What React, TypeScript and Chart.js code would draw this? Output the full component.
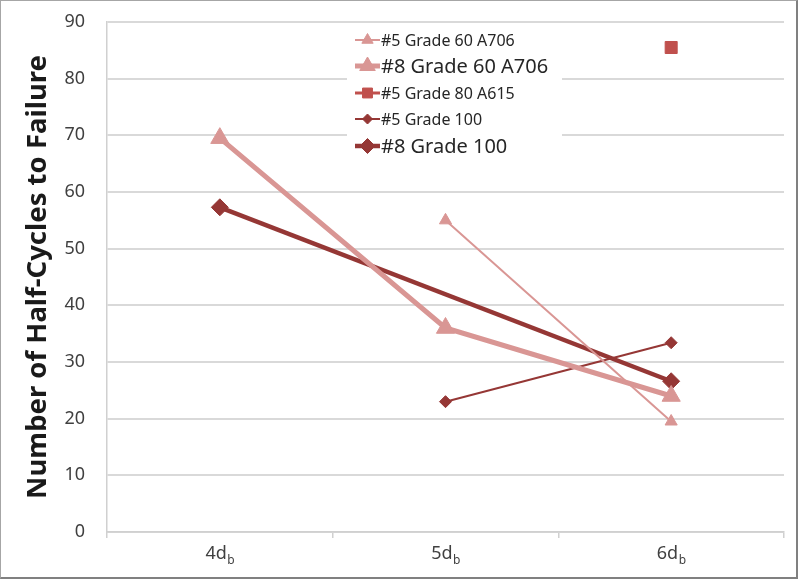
import React, { useEffect, useRef } from 'react';
import { Chart, registerables } from 'chart.js';
import { drawPoint } from 'chart.js/helpers';

Chart.register(...registerables);

const FONT = "'Noto Sans', sans-serif";

const categories = ['4d', '5d', '6d'];
const categorySubscript = 'b';
const yMin = 0;
const yMax = 90;
const yStep = 10;

const seriesLabels = [
  '#5 Grade 60 A706',
  '#8 Grade 60 A706',
  '#5 Grade 80 A615',
  '#5 Grade 100',
  '#8 Grade 100',
];
const no5Grade60: (number | null)[] = [null, 55, 19.5];
const no8Grade60: (number | null)[] = [69.5, 36, 24];
const no5Grade80: (number | null)[] = [null, null, 85.5];
const no5Grade100: (number | null)[] = [null, 23, 33.4];
const no8Grade100: (number | null)[] = [57.3, null, 26.6];

const legendFontSizes = [16, 20, 16, 16, 20];

const PINK = '#d99694';
const RED = '#c0504d';
const DARK = '#953735';

const legendPlugin = {
  id: 'customLegend',
  afterDraw(chart: any) {
    const ctx = chart.ctx;
    ctx.save();
    ctx.fillStyle = '#ffffff';
    ctx.fillRect(347, 28, 215, 132);
    const rows = [40, 66, 93, 119, 146];
    chart.data.datasets.forEach((ds: any, i: number) => {
      const y = rows[i];
      ctx.strokeStyle = ds.borderColor;
      ctx.lineWidth = ds.borderWidth;
      ctx.beginPath();
      ctx.moveTo(355, y);
      ctx.lineTo(380, y);
      ctx.stroke();
      ctx.fillStyle = ds.pointBackgroundColor;
      ctx.strokeStyle = ds.pointBorderColor;
      ctx.lineWidth = 1;
      drawPoint(ctx, { pointStyle: ds.pointStyle, radius: ds.legendRadius, borderWidth: 1, rotation: 0 } as any, 367.5, y);
      ctx.fillStyle = '#262626';
      ctx.font = `${legendFontSizes[i]}px ${FONT}`;
      ctx.textBaseline = 'middle';
      ctx.textAlign = 'left';
      ctx.fillText(ds.label, 381, y + 1);
    });
    ctx.restore();
  },
};

const xLabelPlugin = {
  id: 'subscriptLabels',
  afterDraw(chart: any) {
    const ctx = chart.ctx;
    const xs = chart.scales.x;
    ctx.save();
    ctx.fillStyle = '#404040';
    ctx.textBaseline = 'alphabetic';
    ctx.textAlign = 'left';
    categories.forEach((c, i) => {
      const x = xs.getPixelForValue(i);
      ctx.font = `18px ${FONT}`;
      const w1 = ctx.measureText(c).width;
      ctx.font = `12px ${FONT}`;
      const w2 = ctx.measureText(categorySubscript).width;
      const start = x - (w1 + w2) / 2;
      ctx.font = `18px ${FONT}`;
      ctx.fillText(c, start, 559);
      ctx.font = `12px ${FONT}`;
      ctx.fillText(categorySubscript, start + w1 + 0.5, 564);
    });
    ctx.restore();
  },
};

export default function App() {
  const ref = useRef<HTMLCanvasElement | null>(null);

  useEffect(() => {
    if (!ref.current) return;
    const mk = (label: string, data: (number | null)[], color: string, width: number, style: string, radius: number, legendRadius: number) => ({
      label,
      data,
      borderColor: color,
      backgroundColor: color,
      pointBackgroundColor: color,
      pointBorderColor: color,
      borderWidth: width,
      pointStyle: style,
      pointRadius: radius,
      pointHoverRadius: radius,
      pointBorderWidth: 1,
      legendRadius,
      spanGaps: true,
      tension: 0,
    });
    const chart = new Chart(ref.current, {
      type: 'line',
      data: {
        labels: categories,
        datasets: [
          mk(seriesLabels[0], no5Grade60, PINK, 2, 'triangle', 7, 6.5),
          mk(seriesLabels[1], no8Grade60, PINK, 5, 'triangle', 10.5, 9),
          mk(seriesLabels[2], no5Grade80, RED, 3, 'rect', 8.5, 7),
          mk(seriesLabels[3], no5Grade100, DARK, 2, 'rectRot', 6, 5),
          mk(seriesLabels[4], no8Grade100, DARK, 4.5, 'rectRot', 8.5, 7.5),
        ] as any,
      },
      options: {
        animation: false,
        responsive: false,
        events: [],
        layout: { padding: { left: 8, right: 17, top: 22, bottom: 0 } },
        plugins: { legend: { display: false }, tooltip: { enabled: false } },
        scales: {
          x: {
            type: 'category',
            offset: true,
            grid: { offset: true, drawOnChartArea: false, color: '#d0d0d0', tickLength: 6, lineWidth: 1.5 },
            border: { color: '#d0d0d0', width: 1.5 },
            ticks: { display: false },
            afterFit: (s: any) => { s.height = 48; s.paddingLeft = 0; s.paddingRight = 0; },
          },
          y: {
            min: yMin,
            max: yMax,
            ticks: { stepSize: yStep, padding: 22, font: { family: FONT, size: 18 }, color: '#404040' },
            grid: { color: '#d9d9d9', drawTicks: false, lineWidth: 2 },
            border: { color: '#d0d0d0', width: 1.5 },
            title: {
              display: true,
              text: 'Number of Half-Cycles to Failure',
              font: { family: FONT, size: 27.5, weight: 'bold' },
              color: '#1a1a1a',
              padding: { top: 14, bottom: 0 },
            },
            afterFit: (s: any) => { s.width = 99; s.paddingTop = 0; s.paddingBottom = 0; },
          },
        },
      } as any,
      plugins: [legendPlugin, xLabelPlugin],
    });
    return () => chart.destroy();
  }, []);

  return (
    <div style={{ position: 'absolute', left: 0, top: 0, width: 801, height: 580, background: '#fff' }}>
      <canvas ref={ref} width={801} height={580} style={{ display: 'block' }} />
      <div
        style={{
          position: 'absolute',
          left: 0,
          top: 0,
          width: 798,
          height: 579,
          boxSizing: 'border-box',
          borderTop: '1px solid #a6a6a6',
          borderLeft: '1px solid #a6a6a6',
          borderRight: '2px solid #808080',
          borderBottom: '2px solid #808080',
          pointerEvents: 'none',
        }}
      />
    </div>
  );
}
